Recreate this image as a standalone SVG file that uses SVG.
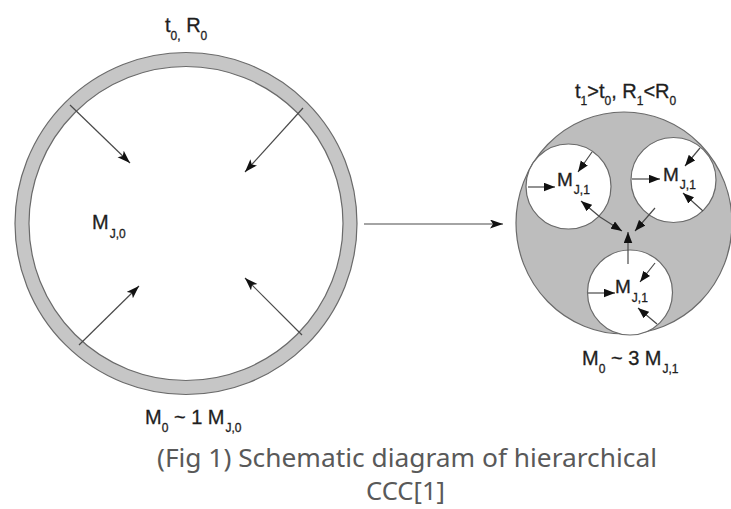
<svg xmlns="http://www.w3.org/2000/svg" width="731" height="509" viewBox="0 0 731 509">
<defs>
<style>
.lbl{font-family:"Liberation Sans",Arial,sans-serif;fill:#1e1e1e;stroke:#1e1e1e;stroke-width:0.3;}
.big{font-size:20px;}
.mid{font-size:19px;}
.sub{font-size:12px;}
.ring{fill:#c6c6c6;stroke:#6a6a6a;stroke-width:1.2;}
.hole{fill:#ffffff;stroke:#6a6a6a;stroke-width:1.2;}
.cell{fill:#bdbdbd;stroke:#6a6a6a;stroke-width:1.2;}
.con{stroke:#4a4a4a;stroke-width:1.2;fill:none;}
.cap{font-family:"Noto Sans","Open Sans",sans-serif;font-size:25px;fill:#595959;}
</style>
<marker id="ahL" markerUnits="userSpaceOnUse" markerWidth="14" markerHeight="10" refX="13" refY="4.5" orient="auto">
<path d="M0,0 L13,4.5 L0,9 L3,4.5 z" fill="#111"/>
</marker>
<marker id="ahS" markerUnits="userSpaceOnUse" markerWidth="12" markerHeight="9" refX="11" refY="4.25" orient="auto">
<path d="M0,0 L11,4.25 L0,8.5 z" fill="#111"/>
</marker>
</defs>
<rect width="731" height="509" fill="#ffffff"/>

<g id="left-cell">
<circle class="ring" cx="186" cy="223.5" r="171"/>
<circle class="hole" cx="186" cy="223.5" r="157"/>
</g>

<g id="right-cell">
<ellipse class="cell" cx="624" cy="223" rx="108" ry="111"/>
</g>
<g id="sub-cell-1">
<circle class="hole" cx="568.5" cy="186.5" r="42.5"/>
</g>
<g id="sub-cell-2">
<circle class="hole" cx="673.5" cy="180" r="42.5"/>
</g>
<g id="sub-cell-3">
<circle class="hole" cx="630" cy="292.5" r="42.5"/>
</g>

<g id="connectors">
<line class="con" x1="70" y1="105" x2="130" y2="163" marker-end="url(#ahL)"/>
<line class="con" x1="303" y1="108" x2="245" y2="172" marker-end="url(#ahL)"/>
<line class="con" x1="79" y1="345" x2="139" y2="286" marker-end="url(#ahL)"/>
<line class="con" x1="302" y1="335" x2="245" y2="278" marker-end="url(#ahL)"/>
<line class="con" x1="364" y1="224" x2="503" y2="224" marker-end="url(#ahL)"/>

<line class="con" x1="528" y1="187" x2="555" y2="187" marker-end="url(#ahS)"/>
<line class="con" x1="592" y1="152" x2="578" y2="172" marker-end="url(#ahS)"/>
<line class="con" x1="600" y1="217" x2="581" y2="201" marker-end="url(#ahS)"/>
<line class="con" x1="600" y1="217" x2="622" y2="231" marker-end="url(#ahS)"/>

<line class="con" x1="632" y1="179" x2="660" y2="179" marker-end="url(#ahS)"/>
<line class="con" x1="700" y1="148" x2="685" y2="166" marker-end="url(#ahS)"/>
<line class="con" x1="703" y1="211" x2="683" y2="193" marker-end="url(#ahS)"/>
<line class="con" x1="655" y1="208" x2="635" y2="231" marker-end="url(#ahS)"/>

<line class="con" x1="588" y1="293" x2="615" y2="293" marker-end="url(#ahS)"/>
<line class="con" x1="655" y1="263" x2="640" y2="282" marker-end="url(#ahS)"/>
<line class="con" x1="657" y1="324" x2="638" y2="308" marker-end="url(#ahS)"/>
<line class="con" x1="628" y1="264" x2="628" y2="232" marker-end="url(#ahS)"/>
</g>

<g id="labels">
<text class="lbl big" x="165" y="32">t<tspan class="sub" dy="8">0,</tspan><tspan dy="-8"> R</tspan><tspan class="sub" dy="8">0</tspan></text>
<text class="lbl big" x="92" y="229">M<tspan class="sub" dx="1" dy="9">J,0</tspan></text>
<text class="lbl big" x="145" y="424">M<tspan class="sub" dy="8">0</tspan><tspan dy="-8"> ~ 1 M</tspan><tspan class="sub" dx="1" dy="8">J,0</tspan></text>
<text class="lbl big" x="575" y="98">t<tspan class="sub" dy="7">1</tspan><tspan dy="-7">&gt;t</tspan><tspan class="sub" dy="7">0</tspan><tspan dy="-7">, R</tspan><tspan class="sub" dy="7">1</tspan><tspan dy="-7">&lt;R</tspan><tspan class="sub" dy="7">0</tspan></text>
<text class="lbl mid" x="557" y="186">M<tspan class="sub" dx="1" dy="8">J,1</tspan></text>
<text class="lbl mid" x="663" y="181">M<tspan class="sub" dx="1" dy="8">J,1</tspan></text>
<text class="lbl mid" x="615" y="293">M<tspan class="sub" dx="1" dy="9">J,1</tspan></text>
<text class="lbl big" x="582" y="365">M<tspan class="sub" dy="8">0</tspan><tspan dy="-8"> ~ 3 M</tspan><tspan class="sub" dx="1" dy="8">J,1</tspan></text>
<text class="cap" x="157" y="467" textLength="500" lengthAdjust="spacingAndGlyphs">(Fig 1) Schematic diagram of hierarchical</text>
<text class="cap" x="366" y="500" textLength="79" lengthAdjust="spacingAndGlyphs">CCC[1]</text>
</g>
</svg>
